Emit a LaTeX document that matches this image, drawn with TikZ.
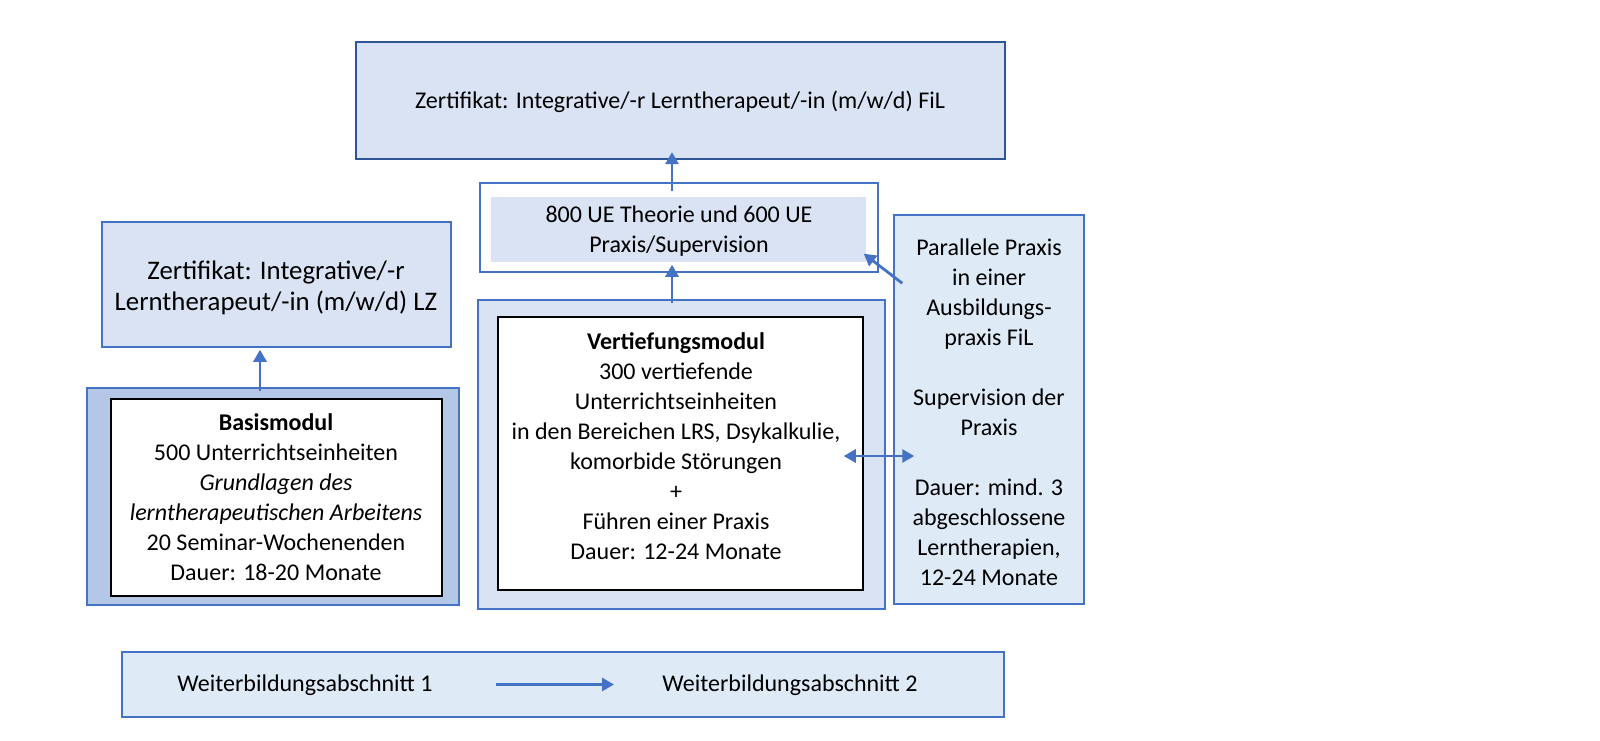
\documentclass[tikz,border=0pt]{standalone}
\usepackage{fontspec}
\setmainfont{Carlito}
\usetikzlibrary{arrows.meta,fit,calc}
\definecolor{bord}{HTML}{4472C4}
\definecolor{bordd}{HTML}{2F5597}
\definecolor{fillA}{HTML}{DAE3F3}
\definecolor{fillB}{HTML}{B4C7E7}
\definecolor{fillC}{HTML}{DEEBF7}
\definecolor{arrc}{HTML}{4472C4}
\begin{document}
\begin{tikzpicture}[x=0.5pt,y=-0.5pt,
  txt/.style={font=\fontsize{12}{15}\selectfont, align=center, text=black, inner sep=0pt},
  ltxt/.style={font=\fontsize{13.4}{15.8}\selectfont, align=center, text=black, inner sep=0pt},
  box/.style={draw=bord, line width=0.75pt, inner sep=0pt},
  wbox/.style={draw=black, line width=0.75pt, fill=white, inner sep=0pt},
  arr/.style={draw=arrc, line width=1.4pt, -{Triangle[length=6pt,width=6.5pt]}},
  darr/.style={draw=arrc, line width=1.4pt, {Triangle[length=6pt,width=6.5pt]}-{Triangle[length=6pt,width=6.5pt]}}]
\useasboundingbox[fill=white] (0,0) rectangle (1600,740);

% top certificate
\node[box, draw=bordd, line width=1.1pt, fill=fillA, fit={(356,42) (1005,159)}] (top) {};
\node[txt] (topt) at (680,102) {Zertifikat: Integrative/-r Lerntherapeut/-in (m/w/d) FiL};

% middle box
\node[box, fill=white, fit={(480,183) (878,272)}] (midO) {};
\node[box, draw=none, fill=fillA, fit={(491,197) (866,262)}] (midI) {};
\node[txt] (midt) at (679,231) {800 UE Theorie und 600 UE\\Praxis/Supervision};

% left certificate
\node[box, fill=fillA, fit={(102,222) (451,347)}] (lc) {};
\node[ltxt] (lct) at (276,288) {Zertifikat: Integrative/-r\\Lerntherapeut/-in (m/w/d) LZ};

% Basismodul
\node[box, fill=fillB, fit={(87,388) (459,605)}] (bo) {};
\node[wbox, fit={(111,399) (442,596)}] (bi) {};
\node[txt] (bt) at (276,497)
  {\textbf{Basismodul}\\500 Unterrichtseinheiten\\\textit{Grundlagen des}\\\textit{lerntherapeutischen Arbeitens}\\20 Seminar-Wochenenden\\Dauer: 18-20 Monate};

% Vertiefungsmodul
\node[box, fill=fillA, fit={(478,300) (885,609)}] (vo) {};
\node[wbox, fit={(498,317) (863,590)}] (vi) {};
\node[txt] (vt) at (676,446)
  {\textbf{Vertiefungsmodul}\\300 vertiefende\\Unterrichtseinheiten\\in den Bereichen LRS, Dsykalkulie,\\komorbide Störungen\\+\\Führen einer Praxis\\Dauer: 12-24 Monate};

% Parallele Praxis
\node[box, fill=fillC, fit={(894,215) (1084,604)}] (par) {};
\node[txt] (part) at (989,412)
  {Parallele Praxis\\in einer\\Ausbildungs-\\praxis FiL\\[15pt]Supervision der\\Praxis\\[15pt]Dauer: mind. 3\\abgeschlossene\\Lerntherapien,\\12-24 Monate};

% bottom legend
\node[box, fill=fillC, fit={(122,652) (1004,717)}] (bot) {};
\node[txt] (w1) at (305,685) {Weiterbildungsabschnitt 1};
\node[txt] (w2) at (790,685) {Weiterbildungsabschnitt 2};

% connectors
\draw[arr] ($(midO.north)+(-7,9)$) -- ($(top.south)+(-8.5,-8)$);
\draw[arr] ($(vo.north)+(-9.5,4)$) -- ($(midO.south)+(-7,-8)$);
\draw[arr] ($(bo.north)+(-13,4)$) -- ($(lc.south)+(-16.5,2)$);
\draw[arr] ($(par.north west)+(9,69)$) -- ($(midI.south east)+(-3,-9)$);
\draw[darr] ($(vi.east)+(-20,2.5)$) -- ($(par.west)+(21,46.5)$);
\draw[arr] ($(bot.center)+(-67,0)$) -- ($(bot.center)+(51,0)$);
\end{tikzpicture}
\end{document}
